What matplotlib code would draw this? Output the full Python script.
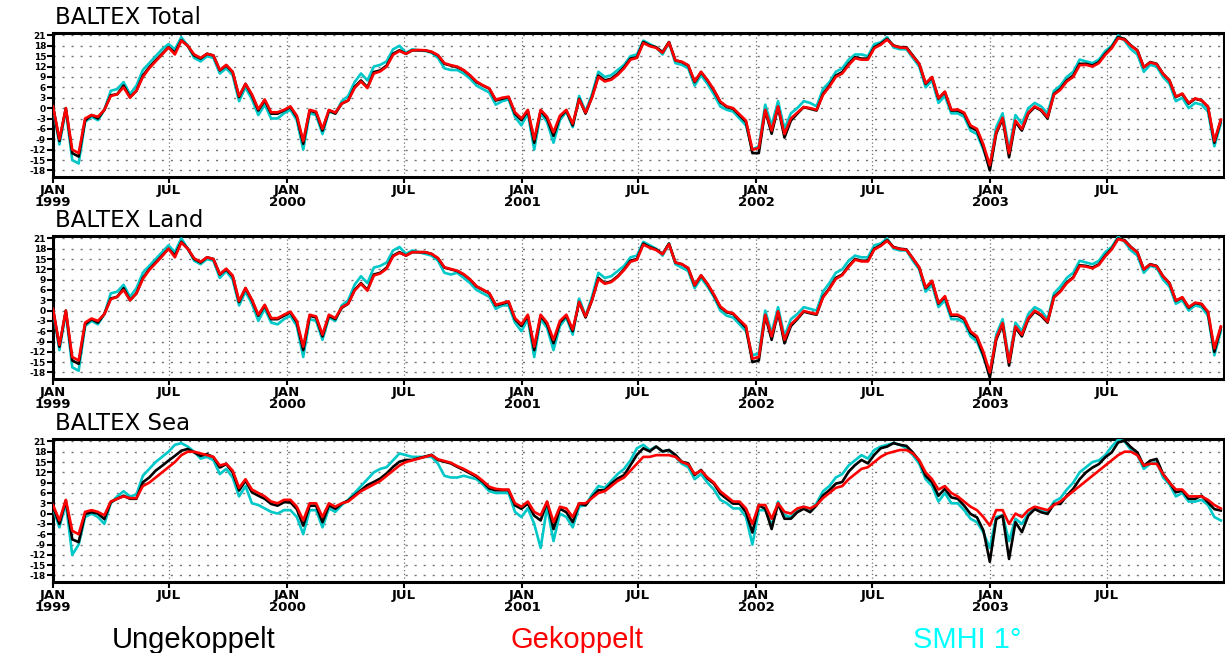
import numpy as np
import matplotlib
matplotlib.use('Agg')
import matplotlib.pyplot as plt

total_unge = [0.5, -9.5, 0, -13, -14, -3.6, -2, -3, -0.5, 3.7, 4, 6.5, 3.2, 5, 9.4, 11.8, 13.8, 15.7, 17.6, 16,
              19.6, 18, 15.2, 14.3, 15.7, 15.2, 10.9, 12.3, 10.4, 3.2, 7, 3.7, -0.7, 2.2, -1.6, -1.6, -0.7,
              0.3, -2.6, -10.3, -0.7, -1.3, -6.5, -0.7, -1.6, 1.3, 2.2, 6.1, 8, 6, 10.4, 10.9, 12.3, 15.7, 16.7, 15.7, 16.7,
              16.7, 16.7, 16.2, 15.2, 12.8, 12.3, 11.8, 10.9, 9.4, 7.5, 6.5, 5.6, 2.2, 2.7, 3.2, -1.6, -3.5,
              -0.7, -10, -0.7, -3, -8, -2.6, -0.7, -5, 2.7, -1.6, 3.2, 9.4, 8, 8.5, 9.9, 11.8, 14.3, 14.7, 19.1, 18.1,
              17.6, 16.2, 19.1, 13.8, 13.3, 12.3, 7.5, 10.4, 8, 5.1, 1.7, 0.3, -0.2, -2.1, -4, -13,
              -13, -0.7, -7.4, 0.3, -8.5, -3.6, -1.6, 0.3, -0.2, -0.7, 4.1, 6.5, 9.4, 10.4, 12.8, 14.7, 14.3, 14.3, 17.6, 18.6,
              20, 18.1, 17.6, 17.6, 15.2, 12.8, 7, 8.9, 2.7, 4.6, -0.7, -0.7, -1.6, -5.5, -6.5, -11.3, -18,
              -7.4, -3.1, -14.2, -4, -6.5, -1.6, 0.3, -0.7, -3, 4.1, 5.6, 8, 9.4, 12.8, 12.8, 12.3, 13.3, 15.7, 17.6, 20.5,
              20, 18.1, 16.7, 11.8, 13.3, 12.8, 9.9, 8, 3.2, 4.1, 1.3, 2.7, 2.2, 0.3, -10, -3.6]
total_gek = [0.5, -9, 0, -12, -13, -3, -2, -2.5, -0.5, 3.5, 4, 6, 3, 5, 9, 11.5, 13.5, 15.5, 17.5, 15.5,
             19.5, 18, 15.5, 14.5, 15.7, 15.2, 11, 12.5, 10.5, 3.5, 7, 4, -0.3, 2.5, -1.2, -1.2, -0.5,
             0.5, -2.2, -9.5, -0.5, -1, -6, -0.5, -1.3, 1.3, 2.2, 5.8, 7.7, 5.8, 10, 10.6, 12, 15.4, 16.5, 15.7, 16.7,
             16.8, 16.7, 16.3, 15.3, 13, 12.4, 12, 11, 9.5, 7.7, 6.6, 5.7, 2.4, 3, 3.3, -1.2, -3,
             -0.5, -9, -0.5, -2.5, -7, -2.2, -0.5, -4.5, 2.5, -1.3, 3, 9, 7.7, 8.2, 9.6, 11.5, 14, 14.5, 18.8, 17.9,
             17.4, 16, 19, 13.8, 13.4, 12.4, 7.7, 10.5, 8.1, 5.3, 1.9, 0.5, 0, -1.8, -3.6, -12,
             -11.5, -0.5, -6.5, 0.5, -7.5, -3, -1.3, 0.3, 0, -0.5, 3.8, 6.2, 9, 10, 12.4, 14.4, 14, 14, 17.3, 18.3,
             19.8, 18, 17.5, 17.4, 15, 12.8, 7.2, 9, 2.9, 4.8, -0.5, -0.4, -1.3, -5, -6, -10.5, -16.5,
             -7, -2.8, -13, -3.6, -6, -1.3, 0.5, -0.5, -2.6, 3.9, 5.3, 7.7, 9, 12.4, 12.5, 12, 13, 15.4, 17.3, 20.2,
             19.8, 18, 16.6, 11.8, 13.2, 12.7, 9.9, 8, 3.3, 4.2, 1.5, 2.8, 2.3, 0.5, -9.5, -3.3]
total_smhi = [0, -10.5, -0.5, -15, -16, -4, -2.5, -3.5, -0.5, 5, 5.5, 7.5, 4, 6.5, 11, 13, 15, 17, 18.5, 17,
              20.5, 18, 14.5, 13.5, 15, 14.5, 10, 11.5, 9.5, 2, 6, 2.5, -2, 1, -3, -3, -1.5,
              -0.5, -3.5, -12, -1.5, -2, -7.5, -1, -1.5, 2, 3.5, 7.5, 10, 8, 12, 12.5, 13.5, 17, 18, 16, 17,
              16.7, 16.5, 16, 14.5, 11.5, 11, 11, 10, 8.5, 6.5, 5.5, 4.5, 1, 2, 2.5, -2.5, -5,
              -1.5, -12, -1.5, -4, -10, -3.5, -1, -5.5, 3.5, -1, 4, 10.5, 9, 9.5, 11, 12.5, 15, 15.5, 19.5, 18.5,
              17.5, 15.5, 19, 13, 12.5, 11.5, 6.5, 9.5, 7, 4, 0.5, -0.5, -1, -3, -5, -12,
              -11, 1, -5, 2, -6, -1.5, 0, 2, 1.5, 0.5, 5.5, 7.5, 10.5, 11.5, 14, 15.5, 15.5, 15, 18.5, 19,
              20.5, 17.5, 17, 17, 14.5, 12, 6, 8, 1.5, 3.5, -1.5, -1.5, -2.5, -6.5, -7.5, -12, -17,
              -5.5, -1.5, -12, -2, -4.5, 0, 1.5, 0.5, -1.5, 5, 6.5, 9, 10.5, 14, 13.5, 13, 14, 16.5, 18, 21,
              19.5, 17, 15.5, 10.5, 12.5, 12, 9, 7, 2, 3, 0, 1.5, 1, -1, -11, -4.5]

land_unge = [0.5, -10.5, 0, -14.5, -15.5, -4, -2.5, -3.5, -1, 3.5, 4, 6.5, 3, 5, 9.5, 12, 14, 16, 18, 16,
             20, 18, 15, 14, 15.5, 15, 10.5, 12, 10, 2.5, 6.5, 3, -1.5, 1.5, -2.5, -2.5, -1.5,
             -0.5, -3.5, -11.5, -1.5, -2, -7.5, -1.5, -2.5, 0.8, 2, 6, 8, 6, 10.5, 11, 12.5, 16, 17, 16, 17,
             17, 17, 16.5, 15.2, 12.5, 12, 11.5, 10.5, 9, 7, 6, 5, 1.5, 2, 2.5, -2.5, -4.5,
             -1.5, -11.5, -1.5, -4, -9.5, -3.5, -1.5, -6, 2.5, -2, 3, 9.5, 8, 8.5, 10, 12, 14.5, 15, 19.5, 18.5,
             17.8, 16.5, 19.5, 14, 13.5, 12.3, 7.3, 10.2, 7.7, 4.5, 1, -0.5, -1, -3, -5, -15,
             -14.5, -1.5, -8.5, -0.5, -9.5, -4.5, -2.5, -0.3, -0.8, -1.2, 4, 6.5, 9.5, 10.5, 13, 15, 14.5, 14.5, 18, 19,
             20.5, 18.5, 18, 17.8, 15.2, 12.5, 6.5, 8.5, 2, 4, -1.5, -1.5, -2.5, -6.5, -8, -13, -19.5,
             -8.5, -4, -16, -5, -7.5, -2.5, -0.3, -1.5, -3.5, 4, 5.7, 8.2, 9.7, 13.2, 13, 12.5, 13.5, 16, 18, 21,
             20.5, 18.5, 17, 12, 13.5, 13, 10, 8, 2.8, 3.8, 0.8, 2.2, 1.8, -0.5, -12, -5]
land_gek = [0.5, -10, 0, -13.5, -14.5, -3.5, -2.3, -3, -1, 3.3, 4, 6, 3, 5, 9.2, 11.8, 13.8, 15.8, 18, 15.5,
            19.8, 18, 15.2, 14.2, 15.5, 15, 10.6, 12.2, 10.2, 2.8, 6.6, 3.2, -1.2, 1.7, -2.2, -2.2, -1.2,
            -0.3, -3, -10.5, -1.2, -1.7, -7, -1.2, -2.2, 1, 2, 5.8, 7.8, 5.8, 10.2, 10.8, 12.2, 15.8, 16.8, 16, 17,
            17, 17, 16.5, 15.3, 12.6, 12.1, 11.6, 10.6, 9.1, 7.1, 6.1, 5.1, 1.7, 2.2, 2.7, -2.2, -4,
            -1.2, -10.5, -1.2, -3.5, -8.5, -3, -1.2, -5.5, 2.5, -1.7, 3, 9.2, 7.8, 8.3, 9.8, 11.8, 14.2, 14.8, 19.2, 18.3,
            17.6, 16.4, 19.3, 14, 13.5, 12.4, 7.4, 10.3, 7.8, 4.7, 1.2, -0.3, -0.8, -2.7, -4.5, -14,
            -13.5, -1.2, -7.5, -0.2, -8.5, -4, -2.2, -0.1, -0.6, -1, 3.8, 6.3, 9.2, 10.3, 12.7, 14.8, 14.3, 14.3, 17.8, 18.8,
            20.3, 18.4, 17.9, 17.7, 15.2, 12.6, 6.7, 8.7, 2.2, 4.2, -1.2, -1.2, -2.2, -6, -7.5, -12, -18,
            -8, -3.6, -15, -4.6, -7, -2.2, 0, -1.2, -3.2, 3.8, 5.5, 8, 9.5, 13, 12.8, 12.3, 13.3, 15.8, 17.8, 20.8,
            20.3, 18.4, 16.9, 12, 13.4, 12.9, 10, 8, 2.9, 3.9, 1, 2.3, 2, -0.3, -11, -4.6]
land_smhi = [0, -11.5, -0.5, -16.5, -17.5, -4.5, -3, -4, -1, 5, 5.5, 7.5, 4, 6.5, 11, 13, 15, 17, 19, 17,
             21, 18, 14.5, 13.5, 15, 14.5, 9.5, 11.5, 9, 1.5, 5.5, 2, -3, 0.5, -3.5, -4, -2.5,
             -1.5, -4.5, -13.5, -2.5, -3, -8.5, -2, -3, 1.5, 3, 7.5, 10, 8, 12.5, 13, 14, 17.5, 18.5, 16.5, 17.5,
             17, 16.5, 16, 14.5, 11, 10.5, 11, 9.5, 8, 6, 5, 4, 0.5, 1.5, 1.5, -3.5, -6,
             -2.5, -13.5, -2.5, -5, -11.5, -4.5, -2, -7, 3.5, -1.5, 4, 11, 9.5, 10, 11.5, 13, 15.5, 16, 20, 19,
             18, 16, 19.5, 13.5, 12.5, 11.5, 6.5, 9.5, 7, 4, 0, -1.5, -2, -4, -6, -13,
             -12.5, 0, -6.5, 1, -7.5, -2.5, -1, 1, 0.5, 0, 5.5, 8, 11, 12, 14.5, 16, 15.5, 15.5, 19, 19.5,
             21, 18, 17.5, 17.5, 14.5, 12, 5.5, 7.5, 1, 3, -2.5, -2.5, -3.5, -7.5, -9, -13.5, -18.5,
             -7, -2.5, -14.5, -3.5, -6, -1, 1, 0, -2.5, 5, 7, 9.5, 11, 14.5, 14, 13.5, 14.5, 17, 18.5, 21.5,
             20, 17.5, 16, 11, 13, 12.5, 9, 7, 2, 3, 0, 1.5, 1, -1.5, -13, -6]

sea_unge = [2, -3, 3.8, -7.5, -8.3, -0.1, 0.4, 0, -1.6, 3.3, 4.3, 5.2, 4.3, 4.3, 9.1, 10.5, 12.5, 13.9, 15.4, 16.8,
            18.3, 18.8, 17.8, 16.8, 17.3, 16.4, 13.4, 14.4, 12, 6.7, 9.6, 6.2, 5.2, 4.3, 2.8, 2.3, 3.3,
            3.3, 1.3, -3.5, 2.3, 2.3, -2.5, 2.4, 1.4, 2.9, 3.8, 5.3, 6.8, 8.3, 9.2, 10.2, 11.7, 13.6, 15.1, 15.6, 15.6,
            16.1, 16.6, 17.1, 15.6, 15.1, 14.6, 13.6, 12.7, 11.7, 10.7, 9.2, 7.3, 6.8, 6.8, 6.8, 2.4, 1.4,
            2.9, -0.6, -2, 3.4, -4.5, 1.4, 0.4, -2.5, 2.9, 2.4, 4.8, 6.8, 6.8, 8.7, 10.2, 11.2, 14.1, 17.1, 19, 18.1,
            19.5, 18.1, 18.5, 17.1, 15.1, 14.6, 11.2, 12.7, 10.2, 8.7, 5.8, 4.3, 2.9, 2.9, 0.4, -5.5,
            2.4, 1.4, -4.5, 2.9, -1.5, -1.5, 0.4, 1.4, 0.4, 2.4, 5.3, 6.8, 8.7, 9.2, 12.2, 14.1, 15.6, 14.6, 17.1, 19,
            19.5, 20.5, 20, 19.7, 17.8, 15.4, 11, 9.1, 5.2, 7.2, 4.7, 4.3, 2.3, -0.1, -1.1, -4.9, -14,
            -1.6, -0.6, -13.2, -2.5, -5.4, -0.6, 1.3, 0.4, -0.1, 2.8, 2.8, 5.2, 7.2, 10, 12, 13.4, 14.4, 16.4, 17.8, 20.7,
            21.2, 19.3, 17.8, 13.9, 15.4, 15.9, 11.5, 9.1, 6.2, 6.7, 4.3, 4.3, 5.2, 3.3, 1.3, 0.9]
sea_gek = [2.5, -2, 4, -5, -6, 0.5, 1, 0.5, -0.5, 3.5, 4.3, 5, 4.5, 4.5, 8, 9, 10.5, 12, 13.5, 15,
           17, 18, 18, 17.5, 17, 16.5, 14, 14.5, 12.5, 7.5, 10, 7, 6, 5, 3.5, 3, 4,
           4, 2, -2, 3, 3, -1, 3, 2, 3, 3.5, 5, 6.5, 7.5, 8.5, 9.5, 11, 12.5, 14, 15, 15.5,
           16, 16.5, 17, 15.8, 15.3, 14.8, 13.8, 13, 12, 11, 9.5, 7.8, 7.2, 7, 7, 3, 2,
           3.5, 0.5, -0.5, 3.5, -2.5, 2, 1.5, -1, 3, 3, 4.5, 6, 6.5, 8, 9.5, 10.5, 12.5, 14.5, 16.5, 16.5,
           17, 17, 17, 16.5, 15, 14.3, 11.5, 12.5, 10.5, 9, 6.5, 5, 3.5, 3.5, 1.5, -3,
           2.5, 2.5, -1.5, 3, 0.5, 0, 1.5, 2, 1.5, 2.5, 4.5, 6, 7.5, 8, 10, 11.5, 13, 13.5, 15, 16.5,
           17.5, 18, 18.5, 18.5, 17.5, 15.5, 12, 10, 7, 8, 6, 5, 3.5, 2, 1, -1, -3.5,
           1, 1, -3, 0, -1, 1, 2, 1.5, 1, 2.5, 3.5, 5, 6.5, 8, 9.5, 11, 12.5, 14, 15.5, 17,
           18, 18, 17, 14, 14.5, 14.5, 11.5, 9, 7, 7, 5, 5, 5, 4, 2.5, 1.5]
sea_smhi = [1.5, -4, 3, -12, -9, -1, 0, -1, -3, 3, 5, 6.5, 5, 5.5, 11, 13, 15, 16.5, 18, 20,
            20.5, 19.5, 18, 16, 16.5, 15.5, 11.5, 13, 10.5, 5, 8, 3, 2.5, 1.5, 0.5, 0, 1,
            1, -1, -6, 1, 1, -4, 1.5, 0.5, 2.5, 4, 6, 8, 10, 12, 13, 13.5, 15.5, 17.5, 17, 16.5,
            16.5, 16.5, 16.5, 14.5, 11, 10.5, 10.5, 11, 10.5, 10, 8.5, 6.5, 6, 6, 6, 0.5, -1,
            1.5, -3, -10, 2, -8, 0, -1, -4, 2, 2.5, 5.5, 8, 7.5, 9.5, 11.5, 13, 15.5, 19, 20, 18.5,
            19.5, 18, 18.5, 16.5, 14.5, 13.5, 10, 11.5, 9, 7, 4, 3, 1.5, 1.5, -1, -9,
            1, 1, -3.5, 3.5, -0.5, -1, 1, 2, 1, 3, 6.5, 8, 10.5, 11.5, 14, 15.5, 17, 16, 18.5, 19.5,
            20, 20.5, 20, 19, 17, 14.5, 10, 8, 3.5, 6, 3, 3, 1, -1.5, -2.5, -5.5, -10,
            -1, -0.5, -8, -1.5, -3, 0, 1.5, 1, 0.5, 3.5, 4.5, 7, 9, 12, 13.5, 15, 15.5, 17, 19.5, 21.5,
            21, 18.5, 17, 13, 14.5, 15, 10.5, 8.5, 5, 6, 3.5, 3.5, 4, 2.5, -1, -2]

titles = ["BALTEX Total", "BALTEX Land", "BALTEX Sea"]
panels = [(total_unge, total_gek, total_smhi),
          (land_unge, land_gek, land_smhi),
          (sea_unge, sea_gek, sea_smhi)]
years = [1999, 2000, 2001, 2002, 2003]
yticks = list(range(-18, 22, 3))

start = np.datetime64('1999-01-01')
W, H = 1225, 653
fig = plt.figure(figsize=(W / 100, H / 100), dpi=100)

# axes boxes in pixel (top, bottom)
boxes = [(33, 177), (236, 379), (439, 582)]
tick_pos = []
tick_lab = []
for y in years:
    tick_pos.append(np.datetime64(f'{y}-01-01'))
    tick_lab.append(f'JAN\n{y}')
    tick_pos.append(np.datetime64(f'{y}-07-01'))
    tick_lab.append('JUL')

for (top, bot), title, (s_unge, s_gek, s_smhi) in zip(boxes, titles, panels):
    ax = fig.add_axes([53 / W, 1 - bot / H, (1224 - 53) / W, (bot - top) / H])
    d = start + np.arange(len(s_unge)) * np.timedelta64(10, 'D')
    ax.plot(d, s_smhi, color='#00C8C8', lw=1.9, zorder=3)
    ax.plot(d, s_unge, color='black', lw=1.9, zorder=4)
    ax.plot(d, s_gek, color='#FF0000', lw=1.9, zorder=5)

    ax.set_xlim(np.datetime64('1999-01-01'), np.datetime64('2003-12-31'))
    ax.set_ylim(-19.9, 21.7)
    ax.set_yticks(yticks)
    ax.set_yticklabels([str(v) for v in yticks], fontsize=6.5, fontweight='bold')
    ax.set_xticks(tick_pos)
    ax.set_xticklabels(tick_lab, fontsize=9.5, fontweight='bold', linespacing=0.95)
    ax.tick_params(axis='both', direction='out', length=4, width=1.5, pad=1)
    ax.grid(axis='y', linestyle=(0, (1.5, 5)), color='0.45', lw=1)
    ax.grid(axis='x', linestyle=(0, (1, 2)), color='0.45', lw=0.9)
    for sp in ax.spines.values():
        sp.set_linewidth(2.2)
    ax.text(0.002, 1.03, title, transform=ax.transAxes, fontsize=16.5,
            va='bottom', ha='left')

fig.text(112 / W, 5 / H, 'Ungekoppelt', fontsize=21, family='Liberation Sans',
         color='black', va='baseline', ha='left')
fig.text(510 / W, 5 / H, 'Gekoppelt', fontsize=21, family='Liberation Sans',
         color='#FF0000', va='baseline', ha='left')
fig.text(913 / W, 5 / H, 'SMHI 1°', fontsize=21, family='Liberation Sans',
         color='#00FFFF', va='baseline', ha='left')

fig.savefig('out.png', dpi=100)
